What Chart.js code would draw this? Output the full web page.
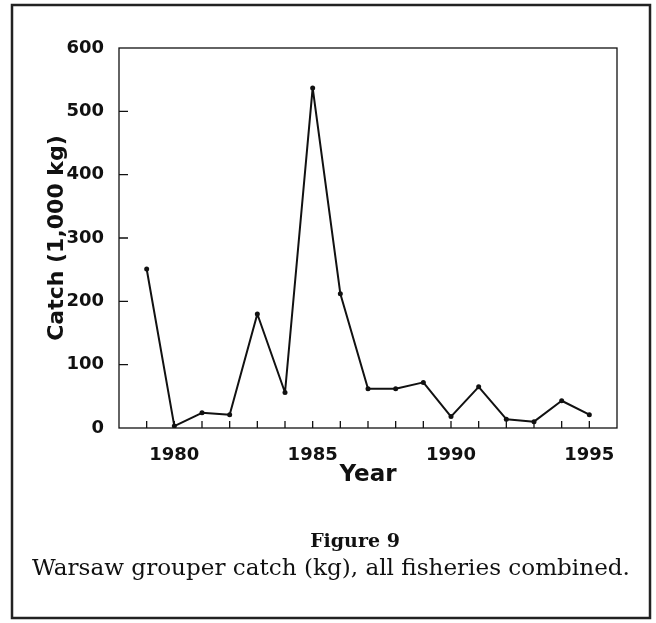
<!doctype html>
<html lang="en">
<head>
<meta charset="utf-8">
<title>Warsaw grouper catch</title>
<script src="https://cdn.jsdelivr.net/npm/chart.js"></script>
<style>
  html, body { margin: 0; padding: 0; background: #fff; }
</style>
</head>
<body>
<canvas id="myChart" width="656" height="623"></canvas>
<script>
// data
var years = [1979, 1980, 1981, 1982, 1983, 1984, 1985, 1986, 1987, 1988, 1989, 1990, 1991, 1992, 1993, 1994, 1995];
var catchKg = [251, 3, 24, 21, 180, 56, 537, 212, 62, 62, 72, 18, 65, 14, 10, 43, 21];
var yearLabels = [1980, 1985, 1990, 1995];
var yTitle = 'Catch (1,000 kg)';
var xTitle = 'Year';
var figLabel = 'Figure 9';
var captionText = 'Warsaw grouper catch (kg), all fisheries combined.';

var points = [];
for (var i = 0; i < years.length; i++) {
    points.push({x: years[i], y: catchKg[i]});
}

var sans = 'DejaVu Sans';
var serif = 'DejaVu Serif';

// plot frame, inward ticks, outer box and the caption
var framePlugin = {
    id: 'frame',
    beforeDraw: function(chart) {
        var c = chart.ctx;
        c.save();
        c.fillStyle = '#fff';
        c.fillRect(0, 0, chart.width, chart.height);
        c.restore();
    },
    afterDraw: function(chart) {
        var c = chart.ctx;
        var a = chart.chartArea;
        var xs = chart.scales.x, ys = chart.scales.y;
        c.save();
        c.strokeStyle = '#111';
        c.lineWidth = 1.3;
        c.strokeRect(a.left, a.top, a.right - a.left, a.bottom - a.top);

        c.beginPath();
        xs.ticks.forEach(function(t) {
            if (t.value <= xs.min || t.value >= xs.max) return;
            var px = xs.getPixelForValue(t.value);
            c.moveTo(px, a.bottom);
            c.lineTo(px, a.bottom - 7);
        });
        ys.ticks.forEach(function(t) {
            if (t.value <= ys.min || t.value >= ys.max) return;
            var py = ys.getPixelForValue(t.value);
            c.moveTo(a.left, py);
            c.lineTo(a.left + 9, py);
        });
        c.stroke();

        // outer box
        c.strokeStyle = '#222';
        c.lineWidth = 2.5;
        c.strokeRect(12, 5, 638, 613);

        // caption
        c.fillStyle = '#111';
        c.textAlign = 'center';
        c.textBaseline = 'middle';
        c.font = 'bold 19px "' + serif + '"';
        c.fillText(figLabel, 355, 542);
        c.font = '21px "' + serif + '"';
        var w = c.measureText(captionText).width;
        var size = 21 * 598 / w;
        c.font = size.toFixed(1) + 'px "' + serif + '"';
        c.fillText(captionText, 331, 569);
        c.restore();
    }
};

const ctx = document.getElementById('myChart');
new Chart(ctx, {
    type: 'line',
    data: {
        datasets: [{
            label: 'Catch',
            data: points,
            borderColor: '#111',
            backgroundColor: '#111',
            borderWidth: 2,
            borderJoinStyle: 'round',
            pointRadius: 2.5,
            pointBackgroundColor: '#111',
            pointBorderWidth: 0,
            tension: 0,
            fill: false
        }]
    },
    options: {
        responsive: false,
        animation: false,
        layout: {
            padding: {left: 0, top: 48, right: 39, bottom: 0}
        },
        plugins: {
            legend: {display: false},
            tooltip: {enabled: false}
        },
        scales: {
            x: {
                type: 'linear',
                min: 1978,
                max: 1996,
                grid: {display: false},
                border: {display: false},
                ticks: {
                    stepSize: 1,
                    autoSkip: false,
                    maxRotation: 0,
                    padding: 9,
                    color: '#111',
                    font: {family: sans, weight: 'bold', size: 18},
                    callback: function(v) {
                        return yearLabels.indexOf(v) >= 0 ? String(v) : '';
                    }
                },
                title: {
                    display: true,
                    text: xTitle,
                    color: '#111',
                    font: {family: sans, weight: 'bold', size: 23},
                    padding: {top: 0, bottom: 134}
                },
                afterFit: function(scale) { scale.height = 195; }
            },
            y: {
                min: 0,
                max: 600,
                grid: {display: false},
                border: {display: false},
                ticks: {
                    stepSize: 100,
                    padding: 7,
                    color: '#111',
                    font: {family: sans, weight: 'bold', size: 18}
                },
                title: {
                    display: true,
                    text: yTitle,
                    color: '#111',
                    font: {family: sans, weight: 'bold', size: 22},
                    padding: {top: 44, bottom: 0}
                },
                afterFit: function(scale) { scale.width = 119; }
            }
        }
    },
    plugins: [framePlugin]
});
</script>
</body>
</html>
